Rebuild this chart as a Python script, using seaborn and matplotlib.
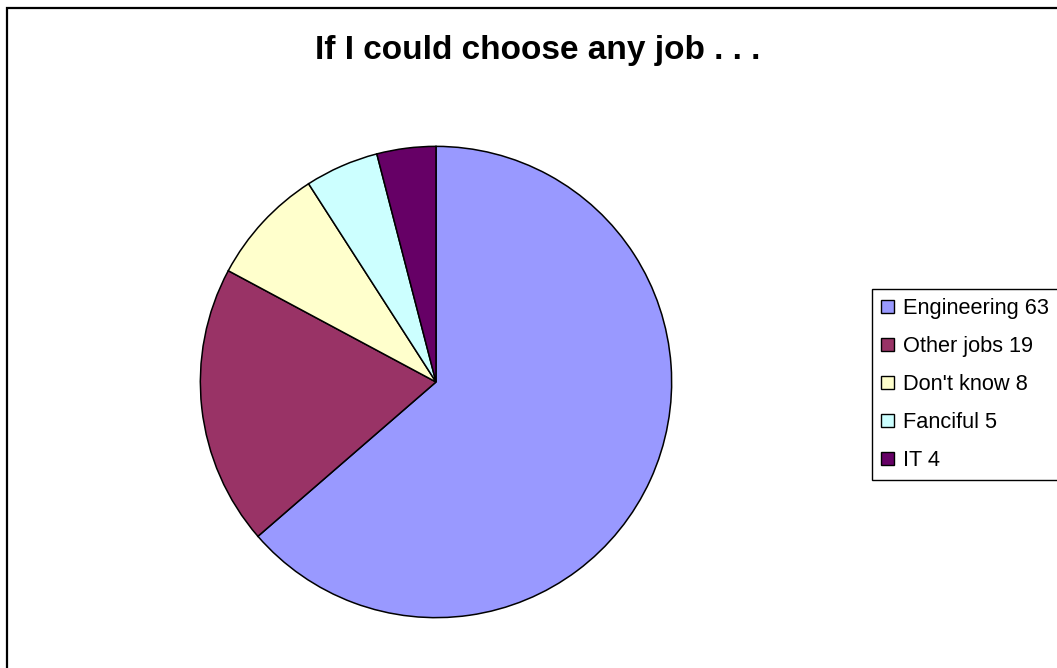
import matplotlib
matplotlib.use("Agg")
import matplotlib.pyplot as plt
from matplotlib.patches import Patch, Rectangle
import seaborn as sns

# Survey answers: "If I could choose any job ..."
categories = ["Engineering", "Other jobs", "Don't know", "Fanciful", "IT"]
counts = [63, 19, 8, 5, 4]
slice_colors = ["#9999FF", "#993366", "#FFFFCC", "#CCFFFF", "#660066"]
title_text = "If I could choose any job . . ."

sns.set_theme(style="white")
plt.rcParams["font.family"] = ["Liberation Sans", "DejaVu Sans"]

W, H = 1057, 668
fig = plt.figure(figsize=(W / 100, H / 100), dpi=100)
fig.patch.set_facecolor("white")

palette = sns.color_palette(slice_colors)

# Chart-area border (open at right and bottom edges)
fig.patches.append(Rectangle((7 / W, -0.05), 1.1, 1 - 8 / H + 0.05,
                             transform=fig.transFigure, fill=False,
                             edgecolor="black", linewidth=1.6, zorder=0))

# Pie axes: centre (436, 382) px, radius 238 px
cx, cy, r = 436, 382, 238
ax = fig.add_axes([(cx - r) / W, (H - cy - r) / H, 2 * r / W, 2 * r / H])
wedges, _ = ax.pie(counts, colors=palette, startangle=90, counterclock=False,
                   radius=1.0,
                   wedgeprops=dict(edgecolor="black", linewidth=1.1))
ax.set_xlim(-1.01, 1.01)
ax.set_ylim(-1.01, 1.01)
ax.set_aspect("equal")
ax.axis("off")

fig.text(538 / W, 1 - 50 / H, title_text, ha="center", va="center",
         fontsize=24, fontweight="bold", color="black")

labels = [f"{c} {v}" for c, v in zip(categories, counts)]
handles = [Patch(facecolor=col, edgecolor="black", linewidth=1.0) for col in palette]
leg = fig.legend(handles, labels, loc="upper left",
                 bbox_to_anchor=(872 / W, 1 - 289 / H),
                 bbox_transform=fig.transFigure,
                 fontsize=15.7, frameon=True, fancybox=False, shadow=False,
                 borderaxespad=0, borderpad=0.42, handlelength=0.6,
                 handleheight=0.6, handletextpad=0.42, labelspacing=0.78)
frame = leg.get_frame()
frame.set_edgecolor("black")
frame.set_linewidth(1.0)
frame.set_facecolor("white")
frame.set_alpha(1)
for t in leg.get_texts():
    t.set_color("black")

fig.savefig("out.png", dpi=100)
